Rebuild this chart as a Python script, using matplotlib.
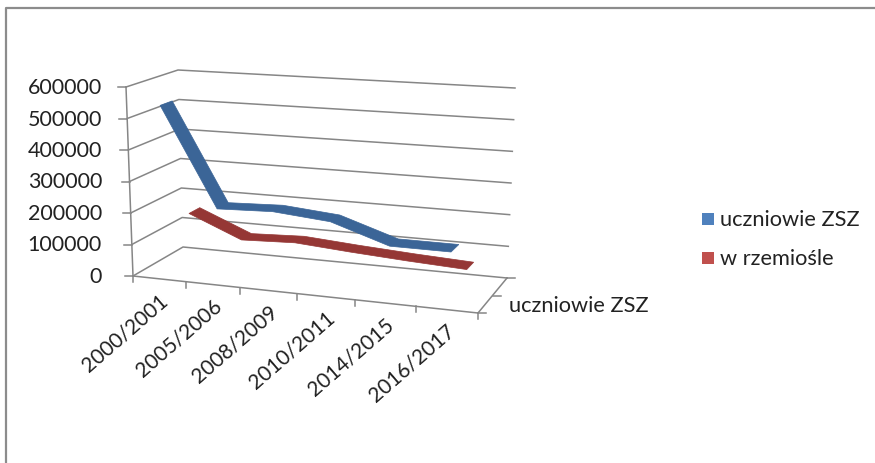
import matplotlib
matplotlib.use('Agg')
import matplotlib.pyplot as plt
import numpy as np

plt.rcParams['font.family'] = ['Lato', 'DejaVu Sans']

categories = ['2000/2001', '2005/2006', '2008/2009', '2010/2011', '2014/2015', '2016/2017']
uczniowie_zsz = [540000, 226000, 233000, 218000, 160000, 160000]
w_rzemiosle = [153000, 82000, 89000, 76000, 65000, 56000]
value_ticks = [0, 100000, 200000, 300000, 400000, 500000, 600000]
series_axis_label = 'uczniowie ZSZ'

GRID = '#868686'
TEXT = '#222222'

# pixel position of the 3D box corners: (bottom, top) for each corner
FL = np.array([[133, 277], [126, 88]], float)
BL = np.array([[183, 248], [178, 71]], float)
FR = np.array([[478, 314], [480, 112]], float)
BR = np.array([[507, 279], [515, 89]], float)


def project(x, value, z):
    # x and z run 0-1 along the category and series axes
    v = np.asarray(value, float) / 600000.0
    x = np.asarray(x, float)
    z = np.asarray(z, float)
    # perspective: categories get wider towards the right
    x = x / (x + (1 - x) * 1.105)
    out = []
    for i in (0, 1):
        front = (1 - x) * (FL[0, i] * (1 - v) + FL[1, i] * v) + x * (FR[0, i] * (1 - v) + FR[1, i] * v)
        back = (1 - x) * (BL[0, i] * (1 - v) + BL[1, i] * v) + x * (BR[0, i] * (1 - v) + BR[1, i] * v)
        out.append(front * (1 - z) + back * z)
    return out[0], out[1]


def ribbon(ax, values, z0, z1, color):
    x = (np.arange(len(values)) + 0.5) / len(values)
    x0, y0 = project(x, values, z0)
    x1, y1 = project(x, values, z1)
    ax.fill(np.r_[x0, x1[::-1]], np.r_[y0, y1[::-1]], color=color, lw=0.5, zorder=3)


fig = plt.figure(figsize=(8.75, 4.64), dpi=100)
ax = fig.add_axes([0, 0, 1, 1])
ax.set_xlim(0, 875)
ax.set_ylim(464, 0)
ax.axis('off')

# outer chart border
ax.plot([6, 6, 875], [464, 9, 9], color='#8c8c8c', lw=1.6)

# gridlines on the side wall and back wall
for v in value_ticks:
    xs, ys = project([0, 0, 1], v, [0, 1, 1])
    ax.plot(xs, ys, color=GRID, lw=1.1, zorder=1)
    ax.plot([xs[0] - 8, xs[0]], [ys[0], ys[0]], color=GRID, lw=1.1, zorder=1)
    ax.text(102, ys[0], str(v), ha='right', va='center', fontsize=15.5, color=TEXT)

# box edges
xs, ys = project([0, 0], [0, 600000], [0, 0])
ax.plot(xs, ys, color=GRID, lw=1.1, zorder=1)
xs, ys = project([0, 1, 1], 0, [0, 0, 1])
ax.plot(xs, ys, color=GRID, lw=1.1, zorder=1)

# category ticks and labels
for i in range(len(categories) + 1):
    xs, ys = project(i / len(categories), 0, 0)
    ax.plot([xs, xs], [ys, ys + 6], color=GRID, lw=1.1, zorder=1)
for i, lab in enumerate(categories):
    xs, ys = project((i + 0.5) / len(categories), 0, 0)
    ax.text(xs + 6, ys + 18, lab, rotation=41, rotation_mode='anchor', ha='right', va='center',
            fontsize=15, color=TEXT)

# series axis ticks
for z in [0, 0.5, 1]:
    xs, ys = project(1, 0, z)
    ax.plot([xs, xs + 8], [ys, ys], color=GRID, lw=1.1, zorder=1)
ax.text(509, 306, series_axis_label, ha='left', va='center', fontsize=15.7, color=TEXT)

ribbon(ax, w_rzemiosle, 0.64, 0.86, '#953735')
ribbon(ax, uczniowie_zsz, 0.13, 0.37, '#3b6597')

# legend
for y, c, lab in [(220, '#4f81bd', 'uczniowie ZSZ'), (259, '#c0504d', 'w rzemiośle')]:
    ax.fill([702, 714, 714, 702], [y - 6, y - 6, y + 6, y + 6], color=c, lw=0)
    ax.text(720, y, lab, ha='left', va='center', fontsize=15.7, color=TEXT)

fig.savefig('out.png', dpi=100)
